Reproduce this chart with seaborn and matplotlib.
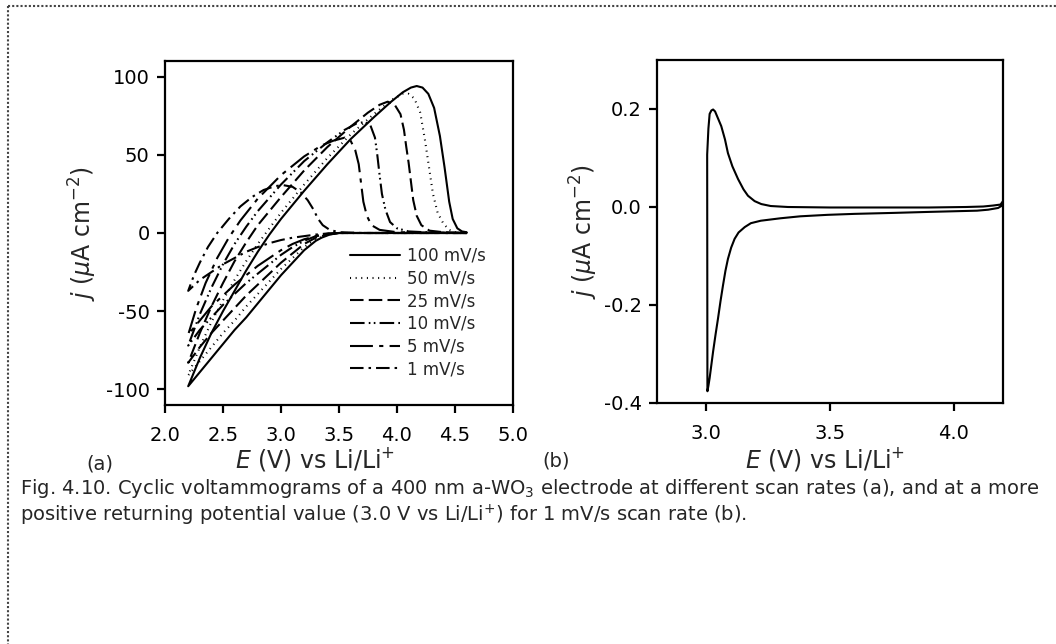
import matplotlib
matplotlib.use("Agg")
import matplotlib.pyplot as plt
import pandas as pd
import seaborn as sns
from matplotlib.lines import Line2D

# ---------------------------------------------------------------------------
# Panel (a): cyclic voltammograms at six scan rates.
# Each loop starts at 4.6 V, sweeps cathodically down to 2.2 V and returns
# anodically back up to 4.6 V.  E in V vs Li/Li+, j in uA cm^-2.
# ---------------------------------------------------------------------------
rates = ["100 mV/s", "50 mV/s", "25 mV/s", "10 mV/s", "5 mV/s", "1 mV/s"]

E_100 = [4.6, 3.5, 3.42, 3.35, 3.3, 3.2, 3.1, 3.0, 2.9, 2.8, 2.7, 2.6, 2.5, 2.4, 2.3, 2.2,
         2.3, 2.4, 2.5, 2.6, 2.7, 2.8, 2.9, 3.0, 3.2, 3.4, 3.6, 3.8, 3.95, 4.05, 4.12, 4.17,
         4.22, 4.27, 4.32, 4.37, 4.41, 4.45, 4.48, 4.52, 4.56, 4.6]
j_100 = [0, 0, -1, -3, -5, -11, -19, -27, -36, -45, -54, -62, -71, -80, -89, -98,
         -80, -64, -50, -37, -24, -12, -1, 9, 27, 44, 60, 74, 84, 90, 93, 94,
         93, 89, 80, 62, 42, 20, 9, 3, 1, 0.5]

E_50 = [4.6, 3.5, 3.4, 3.3, 3.2, 3.1, 3.0, 2.9, 2.8, 2.7, 2.6, 2.5, 2.4, 2.3, 2.2,
        2.3, 2.4, 2.5, 2.6, 2.7, 2.8, 2.9, 3.0, 3.2, 3.4, 3.6, 3.8, 3.95, 4.05, 4.1,
        4.15, 4.2, 4.24, 4.28, 4.31, 4.35, 4.4, 4.45, 4.5, 4.6]
j_50 = [0, 0, -1, -4, -9, -16, -23, -31, -39, -47, -56, -64, -73, -82, -91,
        -73, -57, -43, -30, -18, -7, 3, 13, 31, 48, 63, 76, 85, 89, 89,
        86, 77, 60, 40, 25, 13, 6, 2, 0.5, 0]

E_25 = [4.6, 3.5, 3.4, 3.3, 3.2, 3.1, 3.0, 2.9, 2.8, 2.7, 2.6, 2.5, 2.4, 2.3, 2.2,
        2.3, 2.4, 2.5, 2.6, 2.7, 2.8, 3.0, 3.2, 3.4, 3.6, 3.75, 3.85, 3.92, 3.98, 4.03,
        4.06, 4.08, 4.1, 4.12, 4.14, 4.17, 4.21, 4.28, 4.4, 4.6]
j_25 = [0, 0, -1, -3, -7, -13, -19, -26, -33, -40, -48, -56, -64, -73, -83,
        -64, -47, -32, -18, -6, 5, 23, 40, 55, 68, 77, 82, 84, 82, 76,
        66, 55, 45, 33, 21, 11, 5, 1.5, 0.5, 0]

E_10 = [4.6, 3.5, 3.4, 3.3, 3.2, 3.1, 3.0, 2.9, 2.8, 2.7, 2.6, 2.5, 2.4, 2.3, 2.2,
        2.3, 2.4, 2.5, 2.6, 2.7, 2.8, 3.0, 3.2, 3.4, 3.55, 3.65, 3.72, 3.77, 3.81, 3.83,
        3.85, 3.87, 3.9, 3.94, 4.0, 4.1, 4.3, 4.6]
j_10 = [0, 0, -0.5, -2, -5, -9, -14, -20, -26, -32, -39, -46, -54, -62, -72,
        -52, -35, -20, -7, 4, 14, 31, 46, 58, 66, 70, 71, 69, 61, 50,
        37, 25, 15, 7, 3, 1, 0.3, 0]

E_5 = [4.6, 3.5, 3.4, 3.3, 3.2, 3.1, 3.0, 2.9, 2.8, 2.7, 2.6, 2.5, 2.4, 2.3, 2.2,
       2.27, 2.35, 2.45, 2.55, 2.65, 2.8, 3.0, 3.2, 3.35, 3.45, 3.55, 3.6, 3.64, 3.67, 3.69,
       3.71, 3.74, 3.78, 3.85, 4.0, 4.6]
j_5 = [0, 0, -0.5, -2, -4, -7, -11, -16, -21, -27, -33, -40, -47, -56, -65,
       -48, -32, -16, -3, 8, 22, 37, 49, 56, 59, 61, 59, 53, 44, 32,
       20, 11, 5, 2, 0.5, 0]

E_1 = [4.6, 3.5, 3.4, 3.3, 3.2, 3.1, 3.0, 2.9, 2.8, 2.7, 2.6, 2.5, 2.4, 2.3, 2.2,
       2.25, 2.3, 2.37, 2.45, 2.55, 2.65, 2.75, 2.85, 2.95, 3.02, 3.1, 3.17, 3.23, 3.28, 3.32,
       3.36, 3.42, 3.5, 3.7, 4.6]
j_1 = [0, 0, -0.3, -1, -2, -3, -4.5, -6.5, -9, -12, -16, -20, -25, -30, -37,
       -27, -19, -9, 0, 9, 17, 23, 27.5, 30, 30.6, 29.5, 26, 21, 15, 9,
       5, 2, 0.5, 0, 0]

# ---------------------------------------------------------------------------
# Panel (b): 1 mV/s loop with the return potential at 3.0 V.
# Starts at 4.2 V, sweeps down to 3.0 V and comes back up to 4.2 V.
# ---------------------------------------------------------------------------
E_b = [4.2, 4.18, 4.14, 4.095, 3.9, 3.76, 3.6, 3.49, 3.38, 3.3, 3.22, 3.18, 3.155, 3.13,
       3.114, 3.1, 3.087, 3.077, 3.067, 3.057, 3.047, 3.037, 3.027, 3.02, 3.013, 3.008,
       3.004,
       3.003, 3.008, 3.013, 3.02, 3.027, 3.035, 3.045, 3.06, 3.075, 3.087, 3.105, 3.128,
       3.15, 3.168, 3.195, 3.222, 3.26, 3.33, 3.5, 3.7, 3.9, 4.05, 4.12, 4.16, 4.19, 4.2]
j_b = [0.004, -0.002, -0.0055, -0.0075, -0.010, -0.012, -0.014, -0.016, -0.019, -0.023,
       -0.028, -0.033, -0.041, -0.052, -0.065, -0.083, -0.106, -0.13, -0.16, -0.192,
       -0.227, -0.26, -0.295, -0.322, -0.349, -0.365, -0.376,
       0.107, 0.16, 0.19, 0.197, 0.199, 0.195, 0.183, 0.165, 0.138, 0.11, 0.083, 0.057,
       0.036, 0.023, 0.012, 0.006, 0.002, 0.0, -0.001, -0.001, -0.001, 0.0, 0.001, 0.003,
       0.005, 0.012]

# Axis ranges and ticks
xlim_a, ylim_a = (2.0, 5.0), (-110, 110)
xticks_a = [2.0, 2.5, 3.0, 3.5, 4.0, 4.5, 5.0]
yticks_a = [-100, -50, 0, 50, 100]
xlim_b, ylim_b = (2.8, 4.2), (-0.4, 0.3)
xticks_b = [3.0, 3.5, 4.0]
yticks_b = [-0.4, -0.2, 0.0, 0.2]

caption_1 = ("Fig. 4.10. Cyclic voltammograms of a 400 nm a-WO$_3$ electrode at "
             "different scan rates (a), and at a more")
caption_2 = ("positive returning potential value (3.0 V vs Li/Li$^{+}$) for 1 mV/s "
             "scan rate (b).")

# ---------------------------------------------------------------------------
sns.set_style("ticks")
plt.rcParams["font.family"] = ["DejaVu Sans"]
plt.rcParams["mathtext.fontset"] = "dejavusans"
plt.rcParams["axes.linewidth"] = 1.6
plt.rcParams["xtick.major.width"] = 1.6
plt.rcParams["ytick.major.width"] = 1.6
plt.rcParams["xtick.major.size"] = 6
plt.rcParams["ytick.major.size"] = 6
plt.rcParams["xtick.direction"] = "out"
plt.rcParams["ytick.direction"] = "out"

fig = plt.figure(figsize=(10.56, 6.44), dpi=100)
fig.patch.set_facecolor("white")

ax_a = fig.add_axes([165 / 1056, 1 - 405 / 644, 348 / 1056, 344 / 644])
ax_b = fig.add_axes([657 / 1056, 1 - 403 / 644, 346 / 1056, 343 / 644])

styles = {
    "100 mV/s": "-",
    "50 mV/s": (0, (0.5, 2.2)),
    "25 mV/s": (0, (6.5, 2.5)),
    "10 mV/s": (0, (7, 2, 0.8, 1.6, 0.8, 2)),
    "5 mV/s": (0, (11, 3, 2, 3)),
    "1 mV/s": (0, (6.5, 2.4, 1.2, 2.4)),
}
series_E = [E_100, E_50, E_25, E_10, E_5, E_1]
series_j = [j_100, j_50, j_25, j_10, j_5, j_1]

for name, E, j in zip(rates, series_E, series_j):
    df = pd.DataFrame({"E": E, "j": j})
    sns.lineplot(data=df, x="E", y="j", ax=ax_a, sort=False, estimator=None,
                 color="black", linewidth=1.5, linestyle=styles[name], label=name)

df_b = pd.DataFrame({"E": E_b, "j": j_b})
sns.lineplot(data=df_b, x="E", y="j", ax=ax_b, sort=False, estimator=None,
             color="black", linewidth=1.5)

for ax, xl, yl, xt, yt in [(ax_a, xlim_a, ylim_a, xticks_a, yticks_a),
                           (ax_b, xlim_b, ylim_b, xticks_b, yticks_b)]:
    ax.set_xlim(*xl)
    ax.set_ylim(*yl)
    ax.set_xticks(xt)
    ax.set_yticks(yt)
    for s in ax.spines.values():
        s.set_visible(True)
        s.set_linewidth(1.6)
        s.set_color("black")
    ax.tick_params(axis="both", labelsize=14, colors="black", pad=5)
    ax.tick_params(axis="x", pad=9)
    ax.set_xlabel("$E$ (V) vs Li/Li$^{+}$", fontsize=17)
    ax.set_ylabel("$j$ ($\\mu$A cm$^{-2}$)", fontsize=17)

ax_a.set_xticklabels([f"{v:.1f}" for v in xticks_a])
ax_a.set_yticklabels([f"{v:d}" for v in yticks_a])
ax_b.set_xticklabels([f"{v:.1f}" for v in xticks_b])
ax_b.set_yticklabels([f"{v:.1f}" for v in yticks_b])

ax_a.xaxis.set_label_coords(0.43, -0.117)
ax_b.xaxis.set_label_coords(0.486, -0.122)
ax_a.yaxis.set_label_coords(-0.19, 0.5)
ax_b.yaxis.set_label_coords(-0.165, 0.5)

leg = ax_a.legend(loc="upper left", bbox_to_anchor=(0.532, 0.46), frameon=False,
                  fontsize=12, handlelength=3.0, handletextpad=0.4,
                  labelspacing=0.28, borderpad=0, borderaxespad=0)

fig.text(100 / 1056, 1 - 464 / 644, "(a)", fontsize=14, ha="center", va="center")
fig.text(556 / 1056, 1 - 461 / 644, "(b)", fontsize=14, ha="center", va="center")
fig.text(20 / 1056, 1 - 489 / 644, caption_1, fontsize=14, ha="left", va="center")
fig.text(20 / 1056, 1 - 515 / 644, caption_2, fontsize=14, ha="left", va="center")

# Dotted frame around the figure (top and left edges)
frame_kw = dict(transform=None, color="#444444", linewidth=1.5, linestyle=(0, (1, 1)))
fig.add_artist(Line2D([8, 1056], [638, 638], **frame_kw))
fig.add_artist(Line2D([8, 8], [638, 0], **frame_kw))

fig.savefig("out.png", dpi=100, facecolor="white")
